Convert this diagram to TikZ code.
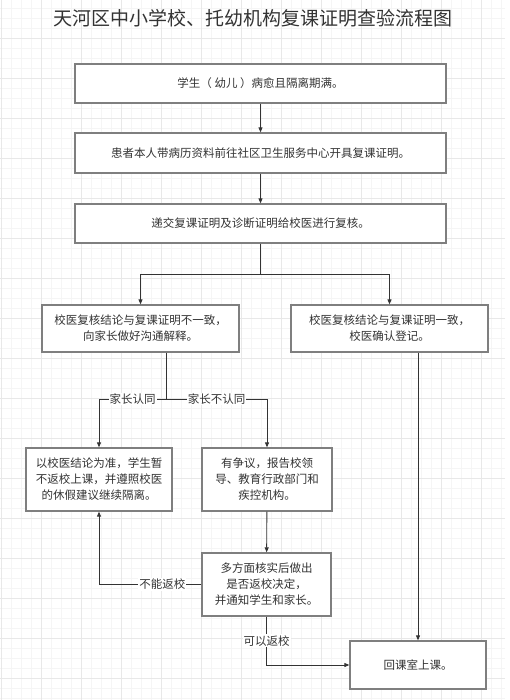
\documentclass[tikz,border=0pt]{standalone}
\usepackage{fontspec}
\setmainfont{Noto Sans CJK SC}
\usetikzlibrary{arrows.meta}
\definecolor{ink}{HTML}{333333}
\definecolor{frame}{HTML}{7F7F7F}
\tikzset{
  box/.style={draw=frame,line width=1.3pt,fill=white,text=ink,align=center,
    font=\fontsize{11.5}{16}\selectfont,inner sep=2pt},
  arr/.style={draw=ink,line width=0.9pt,-{Triangle[length=5pt,width=4pt]}},
  lbl/.style={fill=white,text=ink,inner sep=1pt,font=\fontsize{11.5}{14}\selectfont}
}
\begin{document}
\begin{tikzpicture}[x=1pt,y=-1pt]
    \useasboundingbox (0,0) rectangle (509,700);
    \fill[white] (0,0) rectangle (509,700);
    \foreach \x in {1,11,...,501} \draw[gray!8,line width=0.8pt] (\x,0)--(\x,700);
    \foreach \y in {-1.7,8.3,...,700} \draw[gray!8,line width=0.8pt] (0,\y)--(505,\y);
    \foreach \x in {1,41,...,481} \draw[gray!18,line width=0.8pt] (\x,0)--(\x,700);
    \foreach \y in {38.3,78.3,...,700} \draw[gray!18,line width=0.8pt] (0,\y)--(505,\y);
    \node[text=ink,font=\fontsize{19}{22}\selectfont] (title) at (253,18) {天河区中小学校、托幼机构复课证明查验流程图};
    \node[box,minimum width=371pt,minimum height=39pt] (heal) at (260.5,83.5) {学生（ 幼儿 ）病愈且隔离期满。};
    \node[box,minimum width=371pt,minimum height=40pt] (cert) at (260.5,153) {患者本人带病历资料前往社区卫生服务中心开具复课证明。};
    \node[box,minimum width=371pt,minimum height=39pt] (check) at (260.5,223.5) {递交复课证明及诊断证明给校医进行复核。};
    \node[box,minimum width=197pt,minimum height=47pt] (differ) at (140.5,328.5) {校医复核结论与复课证明不一致，\\向家长做好沟通解释。};
    \node[box,minimum width=197pt,minimum height=47pt] (agree) at (389.5,328.5) {校医复核结论与复课证明一致，\\校医确认登记。};
    \node[box,minimum width=146pt,minimum height=63pt] (isolate) at (99,479.5) {以校医结论为准，学生暂\\不返校上课，并遵照校医\\的休假建议继续隔离。};
    \node[box,minimum width=130pt,minimum height=63pt] (report) at (267,479.5) {有争议，报告校领\\导、教育行政部门和\\疾控机构。};
    \node[box,minimum width=129pt,minimum height=63pt] (decide) at (266.5,584.5) {多方面核实后做出\\是否返校决定，\\并通知学生和家长。};
    \node[box,minimum width=136pt,minimum height=48pt] (back) at (418,665) {回课室上课。};
    \coordinate (split) at (260.5,274);
    \coordinate (fork) at (166,399);
    \draw[arr] (heal) -- (cert);
    \draw[arr] (cert) -- (check);
    \draw[draw=ink,line width=0.9pt] (check) -- (split);
    \draw[arr] (split) -| (differ);
    \draw[arr] (split) -| (agree);
    \draw[draw=ink,line width=0.9pt] (fork |- differ.south) -- (fork);
    \draw[arr] (fork) -| node[lbl,pos=0.25]{家长认同} (isolate);
    \draw[arr] (fork) -| node[lbl,pos=0.25]{家长不认同} (report);
    \draw[arr] (back.north |- agree.south) -- (back);
    \draw[arr] (report) -- (decide);
    \draw[arr] (decide.west) -| node[lbl,pos=0.19]{不能返校} (isolate);
    \draw[arr] (decide) |- node[lbl,pos=0.25]{可以返校} (back);
\end{tikzpicture}
\end{document}
